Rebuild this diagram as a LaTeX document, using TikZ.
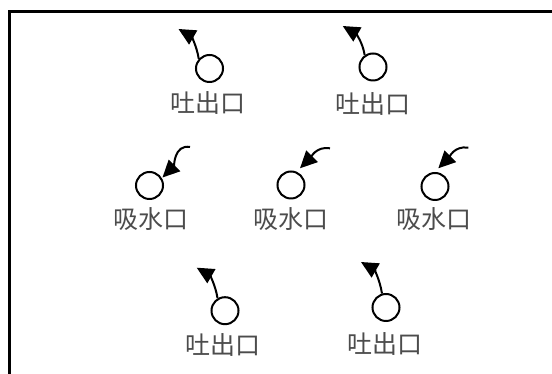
\documentclass[tikz,border=0pt]{standalone}
\usepackage{fontspec}
\setmainfont{Noto Sans CJK SC}
\usetikzlibrary{arrows.meta,calc}
\begin{document}
\begin{tikzpicture}[x=1pt,y=1pt,
  port/.style={circle,draw,line width=2pt,minimum size=27pt,inner sep=0pt},
  lbl/.style={font=\fontsize{25}{25}\selectfont,text=black!70,inner sep=0pt},
  flow/.style={line width=2pt,-{Triangle[length=17pt,width=16pt]}},
  upflow/.style={flow,out=99,in=-30},
  inflow/.style={flow,out=170,in=45}]
\useasboundingbox (0,0) rectangle (552,374);
\draw[line width=2.5pt] (9.5,-3) -- (9.5,362.7) -- (556,362.7);
% outlets (top)
\node[port] (tl) at (209.5,305.5) {};
\node[lbl] (tll) at (208,271) {吐出口};
\coordinate (tlt) at (178.5,345);
\draw[upflow] (tl.138) to (tlt);
\node[port] (tr) at (373,307) {};
\node[lbl] (trl) at (373,270) {吐出口};
\coordinate (trt) at (342.7,348);
\draw[upflow] (tr.125) to (trt);
% inlets (middle)
\node[port] (ml) at (149.5,188.5) {};
\node[lbl] (mll) at (151,154.5) {吸水口};
\coordinate (mls) at (190,227);
\coordinate (mlt) at (162.5,196.5);
\draw[inflow] (mls) to (mlt);
\node[port] (mm) at (291,189) {};
\node[lbl] (mml) at (291,154.5) {吸水口};
\coordinate (mms) at (330,225.7);
\coordinate (mmt) at (300,205.7);
\draw[inflow] (mms) to (mmt);
\node[port] (mr) at (435,187.5) {};
\node[lbl] (mrl) at (434,154.5) {吸水口};
\coordinate (mrs) at (468.3,226.3);
\coordinate (mrt) at (438.3,205.7);
\draw[inflow] (mrs) to (mrt);
% outlets (bottom)
\node[port] (bl) at (225,63.3) {};
\node[lbl] (bll) at (223,29) {吐出口};
\coordinate (blt) at (196.7,106.3);
\draw[upflow] (bl.121) to (blt);
\node[port] (br) at (386,66.5) {};
\node[lbl] (brl) at (385,30.3) {吐出口};
\coordinate (brt) at (361,112);
\draw[upflow] (br.106) to (brt);
\end{tikzpicture}
\end{document}
